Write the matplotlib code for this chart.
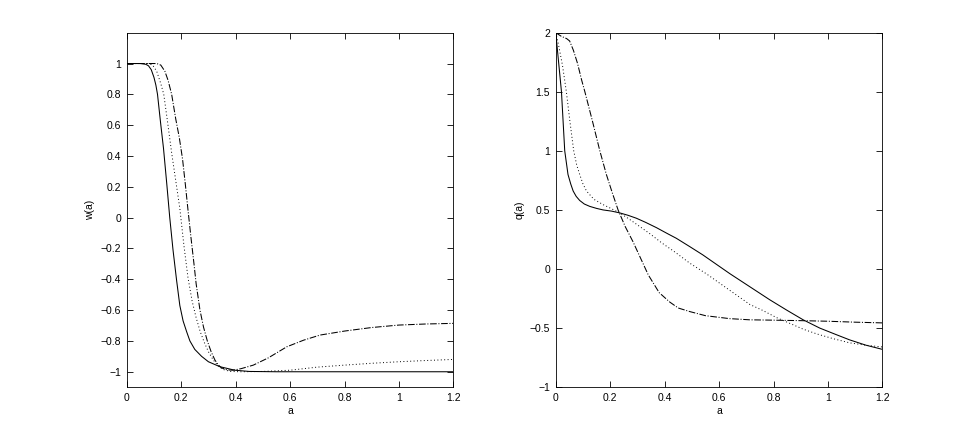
import numpy as np
import matplotlib.pyplot as plt
from matplotlib.ticker import FuncFormatter

plt.rcParams['font.family'] = ['Liberation Sans', 'DejaVu Sans']
plt.rcParams['font.size'] = 7.5

# left panel: w(a)
a_w1 = [0, 0.05, 0.07, 0.08, 0.09, 0.10, 0.107, 0.113, 0.124, 0.135, 0.147, 0.158, 0.17, 0.183,
        0.195, 0.207, 0.22, 0.232, 0.25, 0.275, 0.30, 0.342, 0.397, 0.45, 0.55, 1.2]
w1 = [1, 1, 0.995, 0.985, 0.96, 0.91, 0.86, 0.8, 0.62, 0.45, 0.22, 0.0, -0.21, -0.405,
      -0.57, -0.67, -0.74, -0.8, -0.855, -0.9, -0.935, -0.967, -0.99, -0.998, -1.0, -1.0]

a_w2 = [0, 0.08, 0.095, 0.11, 0.125, 0.136, 0.15, 0.165, 0.18, 0.195, 0.21, 0.225, 0.24, 0.255,
        0.27, 0.285, 0.30, 0.318, 0.335, 0.354, 0.38, 0.42, 0.5, 0.6, 0.7, 0.8, 0.9, 1.0, 1.1, 1.2]
w2 = [1, 1, 0.99, 0.95, 0.87, 0.8, 0.62, 0.42, 0.24, 0.06, -0.18, -0.39, -0.54, -0.65,
      -0.74, -0.81, -0.87, -0.924, -0.96, -0.985, -0.998, -1.0, -0.998, -0.99, -0.97, -0.957,
      -0.945, -0.935, -0.927, -0.92]

a_w3 = [0, 0.11, 0.125, 0.14, 0.152, 0.165, 0.18, 0.193, 0.205, 0.215, 0.225, 0.236, 0.247,
        0.255, 0.269, 0.282, 0.296, 0.31, 0.324, 0.336, 0.348, 0.37, 0.39, 0.42, 0.465, 0.52,
        0.588, 0.65, 0.71, 0.8, 0.9, 1.0, 1.1, 1.2]
w3 = [1, 1, 0.99, 0.95, 0.89, 0.8, 0.64, 0.52, 0.38, 0.22, 0.05, -0.13, -0.3,
      -0.43, -0.6, -0.71, -0.8, -0.87, -0.924, -0.955, -0.975, -0.988, -0.99, -0.98, -0.957, -0.91,
      -0.838, -0.795, -0.762, -0.736, -0.713, -0.697, -0.69, -0.686]

# right panel: q(a)
a_q1 = [0, 0.021, 0.033, 0.045, 0.055, 0.064, 0.075, 0.088, 0.105, 0.125, 0.15, 0.174, 0.205,
        0.235, 0.265, 0.296, 0.33, 0.37, 0.41, 0.443, 0.492, 0.54, 0.59, 0.64, 0.713, 0.786,
        0.85, 0.909, 0.97, 1.03, 1.08, 1.14, 1.2]
q1 = [2.0, 1.5, 1.0, 0.8, 0.72, 0.66, 0.615, 0.58, 0.55, 0.53, 0.513, 0.5, 0.49,
      0.475, 0.455, 0.43, 0.395, 0.35, 0.3, 0.26, 0.19, 0.12, 0.04, -0.04, -0.15, -0.26,
      -0.35, -0.43, -0.5, -0.555, -0.6, -0.645, -0.68]

a_q2 = [0, 0.01, 0.025, 0.039, 0.052, 0.066, 0.077, 0.088, 0.1, 0.113, 0.14, 0.174, 0.205,
        0.235, 0.265, 0.296, 0.345, 0.39, 0.44, 0.492, 0.553, 0.639, 0.713, 0.76, 0.81, 0.86,
        0.91, 0.96, 1.02, 1.08, 1.14, 1.2]
q2 = [2.0, 1.9, 1.72, 1.5, 1.25, 1.0, 0.88, 0.8, 0.72, 0.66, 0.59, 0.545, 0.51,
      0.475, 0.43, 0.38, 0.3, 0.22, 0.14, 0.05, -0.04, -0.18, -0.3, -0.35, -0.41, -0.46,
      -0.51, -0.55, -0.59, -0.625, -0.645, -0.66]

a_q3 = [0, 0.02, 0.04, 0.051, 0.065, 0.08, 0.095, 0.107, 0.135, 0.162, 0.186, 0.207, 0.229,
        0.255, 0.284, 0.31, 0.34, 0.38, 0.419, 0.45, 0.492, 0.55, 0.639, 0.713, 0.8, 0.9, 1.0,
        1.1, 1.2]
q3 = [2.0, 1.97, 1.95, 1.93, 1.85, 1.74, 1.6, 1.5, 1.25, 1.0, 0.8, 0.65, 0.5,
      0.36, 0.23, 0.1, -0.05, -0.2, -0.28, -0.33, -0.36, -0.395, -0.42, -0.43, -0.433, -0.437, -0.442,
      -0.45, -0.456]

fig = plt.figure(figsize=(9.75, 4.36), dpi=100)
ax1 = fig.add_axes([0.130, 0.112, 0.335, 0.813])
ax2 = fig.add_axes([0.570, 0.112, 0.335, 0.813])

lw = 0.75
ax1.plot(a_w1, w1, color='black', linestyle='-', linewidth=lw)
ax1.plot(a_w2, w2, color='black', linestyle=(0, (1, 2.5)), linewidth=0.7)
ax1.plot(a_w3, w3, color='black', linestyle='-.', linewidth=lw)
ax1.set_xlim(0, 1.2)
ax1.set_ylim(-1.1, 1.2)
ax1.set_yticks(np.round(np.arange(-1, 1.01, 0.2), 1))
ax1.set_ylabel('w(a)')

ax2.plot(a_q1, q1, color='black', linestyle='-', linewidth=lw)
ax2.plot(a_q2, q2, color='black', linestyle=(0, (1, 2.5)), linewidth=0.7)
ax2.plot(a_q3, q3, color='black', linestyle='-.', linewidth=lw)
ax2.set_xlim(0, 1.2)
ax2.set_ylim(-1, 2)
ax2.set_yticks(np.arange(-1, 2.01, 0.5))
ax2.set_ylabel('q(a)')

# matlab style labels: 1, 0.8, 0, -1
fmt = FuncFormatter(lambda v, pos: ('%g' % (round(v, 2) + 0.0)).replace('-', '\u2212'))

for ax in (ax1, ax2):
    ax.set_xticks(np.round(np.arange(0, 1.21, 0.2), 1))
    ax.xaxis.set_major_formatter(fmt)
    ax.yaxis.set_major_formatter(fmt)
    ax.set_xlabel('a', labelpad=2)
    ax.tick_params(direction='in', top=True, right=True, length=4, width=0.6, pad=4)
    for s in ax.spines.values():
        s.set_linewidth(0.6)

plt.savefig('out.png', dpi=100)
